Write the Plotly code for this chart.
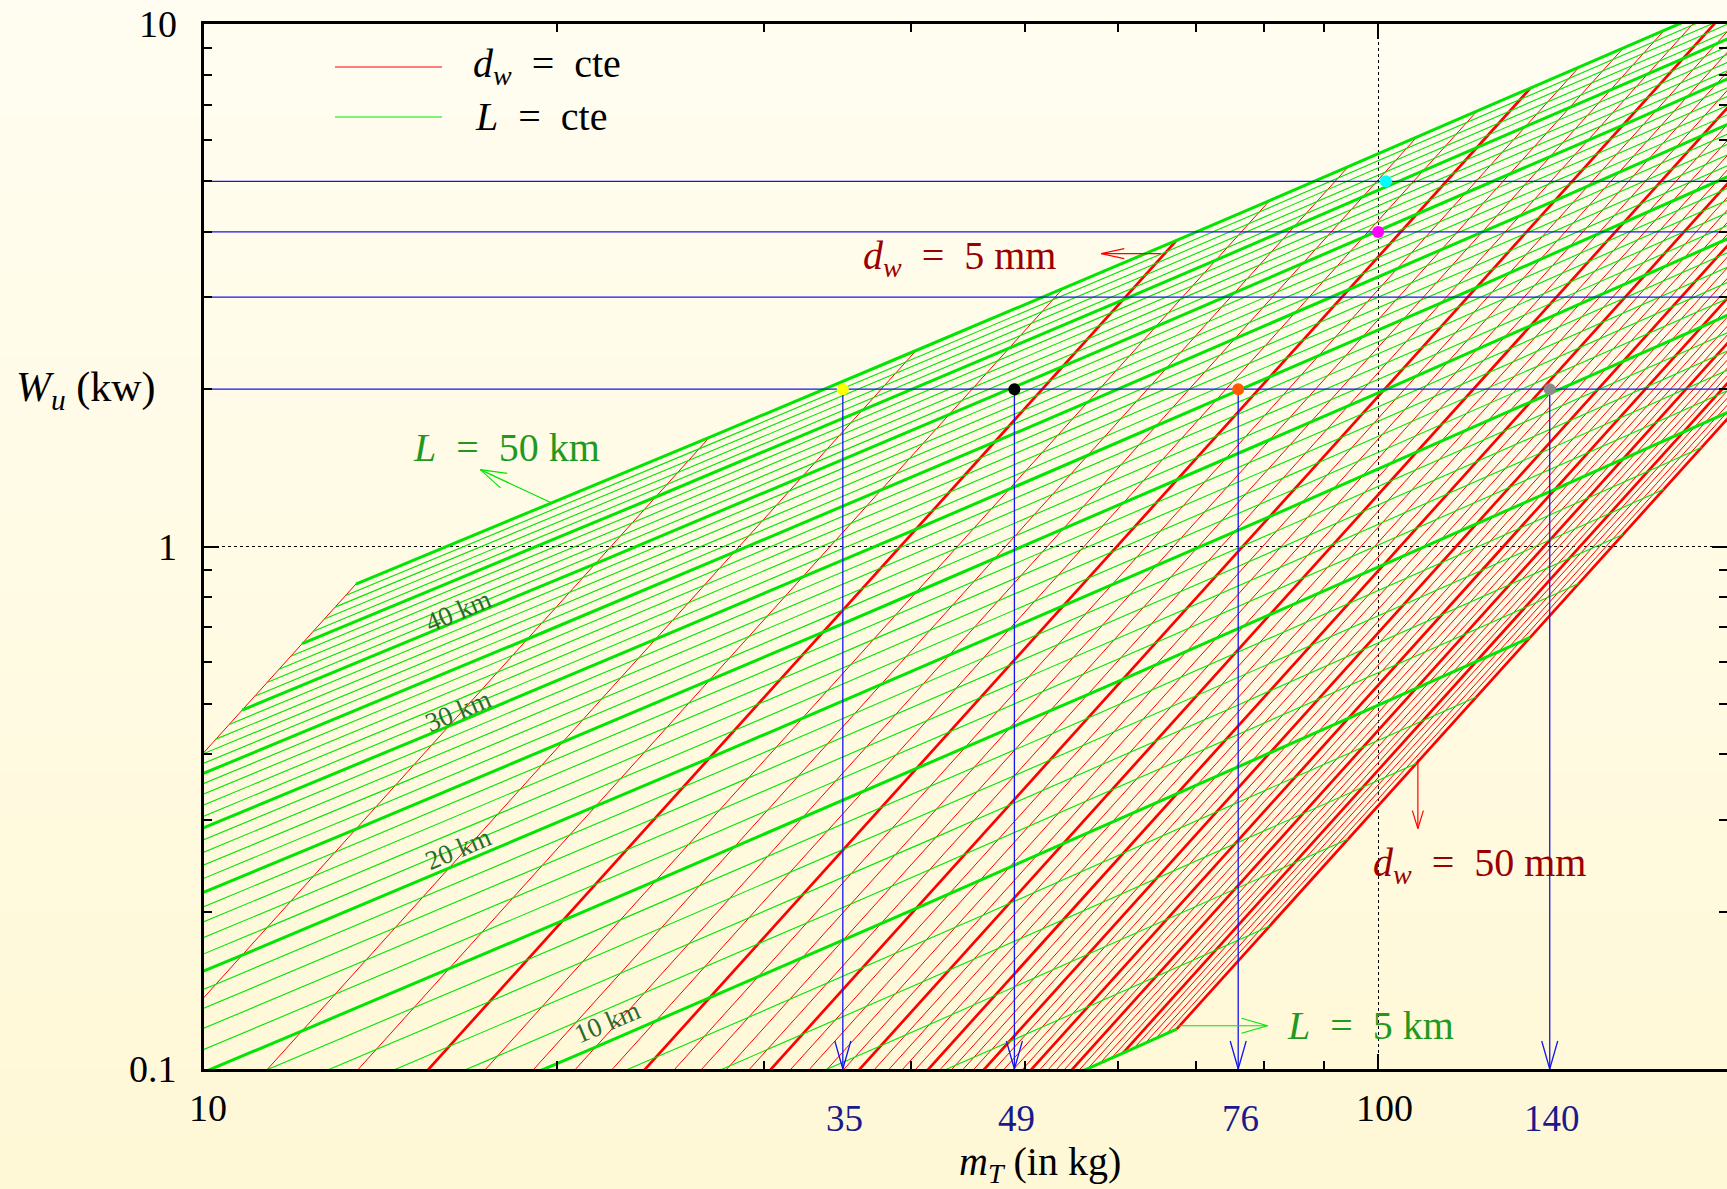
import math
import plotly.graph_objects as go

# ------------------------------------------------------------------ data
# parameter values of the two families of curves of the nomogram
L_km = [5, 6, 7, 8, 9, 10, 11, 12, 13, 14, 15, 16, 17, 18, 19, 20, 21, 22, 23, 24,
        25, 26, 27, 28, 29, 30, 31, 32, 33, 34, 35, 36, 37, 38, 39, 40, 41, 42, 43,
        44, 45, 46, 47, 48, 49, 50]
d_mm = [1, 2, 3, 4, 5, 6, 7, 8, 9, 10, 11, 12, 13, 14, 15, 16, 17, 18, 19, 20,
        21, 22, 23, 24, 25, 26, 27, 28, 29, 30, 31, 32, 33, 34, 35, 36, 37, 38, 39,
        40, 41, 42, 43, 44, 45, 46, 47, 48, 49, 50]
# mass (kg) at which each d_w = cte line reaches W_u = 0.1 kW
red_m_at_W01 = [5.71, 8.81, 11.33, 13.54, 15.54, 17.38, 19.10, 20.73, 22.28, 23.76,
                25.18, 26.55, 27.88, 29.16, 30.41, 31.62, 32.80, 33.96, 35.09, 36.19,
                37.27, 38.34, 39.38, 40.40, 41.41, 42.40, 43.37, 44.33, 45.28, 46.21,
                47.14, 48.04, 48.94, 49.82, 50.70, 51.56, 52.42, 53.26, 54.10, 54.92,
                55.74, 56.55, 57.36, 58.15, 58.93, 59.71, 60.49, 61.25, 62.01, 62.76]
RED_SLOPE = 2.49          # log-log slope of the d_w = cte lines
MASS_PER_KM_MM = 0.2694   # m_T (kg) of the crossing of L (km) and d_w (mm)
THICK_EVERY = 5

guide_W = [5, 4, 3, 2]                     # horizontal read-out lines (kW)
drop_m = [35, 49, 76, 140]                 # vertical read-out arrows (kg)
drop_labels = ["35", "49", "76", "140"]
dot_m = [35, 49, 76, 140, 100, 101.5]
dot_W = [2, 2, 2, 2, 4, 5]
dot_colors = ["#ffff00", "#000000", "#ff5a00", "#8a8a8a", "#ff00ff", "#00ffff"]

km_labels = ["40 km", "30 km", "20 km", "10 km"]
km_label_m = [16.45, 16.45, 16.45, 22.05]
km_label_W = [0.754, 0.485, 0.264, 0.123]

# ------------------------------------------------------------------ layout geometry
FIG_W, FIG_H = 1727, 1189
M_L, M_R, M_T, M_B = 204, 0, 24, 120
PLOT_W = FIG_W - M_L - M_R
PLOT_H = FIG_H - M_T - M_B
X_RANGE = [1.0, math.log10(198.2)]
Y_RANGE = [-1.0, 1.0]
PXX = PLOT_W / (X_RANGE[1] - X_RANGE[0])
PXY = PLOT_H / (Y_RANGE[1] - Y_RANGE[0])

FONT = "Liberation Serif"
RED = "#ff0000"
GREEN = "#00e600"
BLUE = "#1414ee"


def node(L, i):
    m = MASS_PER_KM_MM * L * d_mm[i]
    W = 0.1 * (m / red_m_at_W01[i]) ** RED_SLOPE
    return m, W


def pack(lines):
    xs, ys = [], []
    for lx, ly in lines:
        xs += list(lx) + [None]
        ys += list(ly) + [None]
    return xs, ys


def to_px(m, W):
    return math.log10(m) * PXX, -math.log10(W) * PXY


def from_px(X, Y):
    return 10 ** (X / PXX), 10 ** (-Y / PXY)


def arrow(m0, W0, m1, W1, head_len, head_half):
    X0, Y0 = to_px(m0, W0)
    X1, Y1 = to_px(m1, W1)
    dx, dy = X1 - X0, Y1 - Y0
    n = math.hypot(dx, dy)
    ux, uy = dx / n, dy / n
    bx, by = X1 - ux * head_len, Y1 - uy * head_len
    w1 = from_px(bx - uy * head_half, by + ux * head_half)
    w2 = from_px(bx + uy * head_half, by - ux * head_half)
    return ([m0, m1, None, w1[0], m1, w2[0], None],
            [W0, W1, None, w1[1], W1, w2[1], None])


def paper(px, py):
    return (px - M_L) / PLOT_W, (FIG_H - M_B - py) / PLOT_H


# ------------------------------------------------------------------ curves
red_thin, red_thick = [], []
for i, d in enumerate(d_mm):
    pts = [node(L, i) for L in L_km]
    seg = ([p[0] for p in pts], [p[1] for p in pts])
    (red_thick if d % THICK_EVERY == 0 else red_thin).append(seg)

green_thin, green_thick = [], []
for L in L_km:
    pts = [node(L, i) for i in range(len(d_mm))]
    seg = ([p[0] for p in pts], [p[1] for p in pts])
    (green_thick if L % THICK_EVERY == 0 else green_thin).append(seg)

fig = go.Figure()


def add_lines(lines, color, width):
    xs, ys = pack(lines)
    fig.add_trace(go.Scatter(x=xs, y=ys, mode="lines", line=dict(color=color, width=width),
                             hoverinfo="skip", showlegend=False, connectgaps=False))


add_lines(red_thin, RED, 1.0)
add_lines(red_thick, RED, 2.7)
add_lines(green_thin, GREEN, 1.1)
add_lines(green_thick, GREEN, 3.0)

# read-out lines
hl = [([10, 1000], [w, w]) for w in guide_W]
add_lines(hl, BLUE, 1.3)
vl = [arrow(m, 2, m, 0.1, 28, 8) for m in drop_m]
add_lines(vl, BLUE, 1.3)

# annotation arrows
add_lines([arrow(19.76, 1.213, 17.19, 1.403, 26, 8)], GREEN, 1.2)
add_lines([arrow(67.5, 0.121, 80.5, 0.121, 26, 7.5)], GREEN, 1.2)
add_lines([arrow(65.3, 3.634, 58.1, 3.634, 23, 5)], RED, 1.2)
add_lines([arrow(108.1, 0.3913, 108.1, 0.2884, 18, 5.5)], RED, 1.2)

fig.add_trace(go.Scatter(x=dot_m, y=dot_W, mode="markers",
                         marker=dict(size=12, color=dot_colors, line=dict(width=0)),
                         hoverinfo="skip", showlegend=False, cliponaxis=False))

# dummy trace for the right-hand tick axis
fig.add_trace(go.Scatter(x=[20], y=[1], yaxis="y2", mode="markers",
                         marker=dict(opacity=0), hoverinfo="skip", showlegend=False))

# ------------------------------------------------------------------ background gradient
shapes = []
N = 60
top = (255, 253, 241)
bot = (255, 248, 214)
y_lo = -M_B / PLOT_H
y_hi = 1 + M_T / PLOT_H
for k in range(N):
    t = (k + 0.5) / N
    c = tuple(round(top[j] + (bot[j] - top[j]) * t) for j in range(3))
    ya = y_hi - (y_hi - y_lo) * k / N
    yb = y_hi - (y_hi - y_lo) * (k + 1) / N
    shapes.append(dict(type="rect", xref="paper", yref="paper", x0=-M_L / PLOT_W, x1=1.0,
                       y0=yb - 0.001, y1=ya + 0.001, fillcolor="rgb(%d,%d,%d)" % c,
                       line=dict(width=0), layer="below"))

# legend samples
for py, col in [(67, RED), (117, GREEN)]:
    x0, y0 = paper(335, py)
    x1, _ = paper(442, py)
    shapes.append(dict(type="line", xref="paper", yref="paper", x0=x0, x1=x1, y0=y0, y1=y0,
                       line=dict(color=col, width=1.2)))

# ------------------------------------------------------------------ texts
ann = []


def note_data(text, m, W, size, color, angle=0, **kw):
    d = dict(x=math.log10(m), y=math.log10(W), xref="x", yref="y", text=text,
             showarrow=False, textangle=angle, xanchor="center", yanchor="middle",
             font=dict(family=FONT, size=size, color=color))
    d.update(kw)
    ann.append(d)


def note_px(text, px, py, size, color, **kw):
    x, y = paper(px, py)
    d = dict(x=x, y=y, xref="paper", yref="paper", text=text, showarrow=False,
             xanchor="center", yanchor="middle",
             font=dict(family=FONT, size=size, color=color))
    d.update(kw)
    ann.append(d)


SP = "&nbsp;"
EQ = SP + " = " + SP
note_px("<i>d</i><sub><i>w</i></sub>" + EQ + "cte", 471, 66, 40, "black", xanchor="left")
note_px("<i>L</i>" + EQ + "cte", 473, 117, 40, "black", xanchor="left")

note_data("<i>L</i>" + EQ + "50 km", 18.09, 1.546, 40, "#1f9a1f")
note_data("<i>L</i>" + EQ + "5 km", 98.6, 0.1211, 40, "#1f9a1f")
note_data("<i>d</i><sub><i>w</i></sub>" + EQ + "5 mm", 44.0, 3.57, 40, "#9a0000")
note_data("<i>d</i><sub><i>w</i></sub>" + EQ + "50 mm", 121.9, 0.2462, 40, "#9a0000")

for t, m, w in zip(km_labels, km_label_m, km_label_W):
    note_data(t, m, w, 27, "#2a6a2a", angle=-23)

# axis tick labels
for v, t in [(10, "10"), (1, "1"), (0.1, "0.1")]:
    ann.append(dict(x=paper(179, 0)[0], y=math.log10(v), xref="paper", yref="y", text=t,
                    showarrow=False, xanchor="right", yanchor="middle",
                    font=dict(family=FONT, size=38, color="black")))
for v, t, sh in [(10, "10", 4), (100, "100", 6)]:
    ann.append(dict(x=math.log10(v), y=paper(0, 1108)[1], xref="x", yref="paper", text=t,
                    showarrow=False, xshift=sh, xanchor="center", yanchor="middle",
                    font=dict(family=FONT, size=38, color="black")))
for v, t in zip(drop_m, drop_labels):
    ann.append(dict(x=math.log10(v), y=paper(0, 1118)[1], xref="x", yref="paper", text=t,
                    showarrow=False, xanchor="center", yanchor="middle", xshift=2,
                    font=dict(family=FONT, size=37, color="#1a1a8c")))

note_px("<i>W</i><sub><i>u</i></sub>" + SP + "(kw)", 86, 390, 42, "black")
note_px("<i>m</i><sub><i>T</i></sub>" + SP + "(in kg)", 1040, 1164, 40, "black")

# ------------------------------------------------------------------ axes
x_minor = [20, 30, 40, 50, 60, 70, 80, 90]
y_minor = [0.2, 0.3, 0.4, 0.5, 0.6, 0.7, 0.8, 0.9, 2, 3, 4, 5, 6, 7, 8, 9]

fig.update_layout(
    width=FIG_W, height=FIG_H,
    margin=dict(l=M_L, r=M_R, t=M_T, b=M_B, autoexpand=False),
    paper_bgcolor="rgb(255,251,228)",
    plot_bgcolor="rgba(0,0,0,0)",
    showlegend=False,
    shapes=shapes,
    annotations=ann,
    xaxis=dict(type="log", range=X_RANGE, showline=True, linecolor="black", linewidth=2.5,
               mirror="ticks", ticks="inside", tickvals=[10, 100], ticklen=15, tickwidth=2,
               tickcolor="black", showticklabels=False, showgrid=True, gridcolor="black",
               griddash="dot", gridwidth=1, zeroline=False,
               minor=dict(tickvals=x_minor, ticks="inside", ticklen=8, tickwidth=2,
                          tickcolor="black", showgrid=False)),
    yaxis=dict(type="log", range=Y_RANGE, showline=True, linecolor="black", linewidth=2.5,
               mirror=False, ticks="inside", tickvals=[0.1, 1, 10], ticklen=15, tickwidth=2,
               tickcolor="black", showticklabels=False, showgrid=True, gridcolor="black",
               griddash="dot", gridwidth=1, zeroline=False,
               minor=dict(tickvals=y_minor, ticks="inside", ticklen=8, tickwidth=2,
                          tickcolor="black", showgrid=False)),
    yaxis2=dict(type="log", range=Y_RANGE, overlaying="y", side="right", showline=False,
                ticks="inside", tickvals=[0.1, 1, 10], ticklen=15, tickwidth=2,
                tickcolor="black", showticklabels=False, showgrid=False, zeroline=False,
                minor=dict(tickvals=y_minor, ticks="inside", ticklen=8, tickwidth=2,
                           tickcolor="black", showgrid=False)),
)

fig.write_html("out.html", config={"displayModeBar": False})
